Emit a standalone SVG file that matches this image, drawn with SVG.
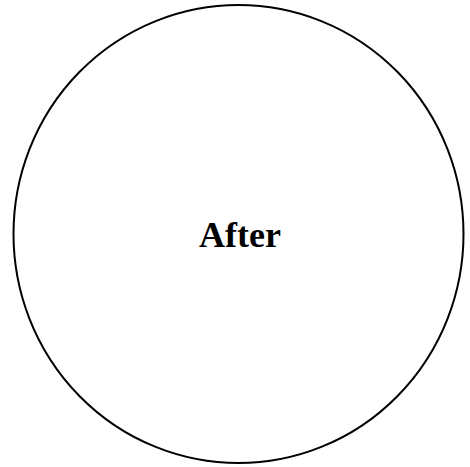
<svg xmlns="http://www.w3.org/2000/svg" width="470" height="467" viewBox="0 0 470 467">
<style>
.shape{fill:none;stroke:#000;stroke-width:2}
.lbl{font-family:"Liberation Serif","DejaVu Serif",serif;font-weight:bold;font-size:36px;fill:#000}
</style>
<rect width="470" height="467" fill="#fff"/>
<g id="after">
<ellipse class="shape" cx="238.5" cy="234" rx="225" ry="229"/>
<text class="lbl" x="240" y="247" text-anchor="middle">After</text>
</g>
</svg>
